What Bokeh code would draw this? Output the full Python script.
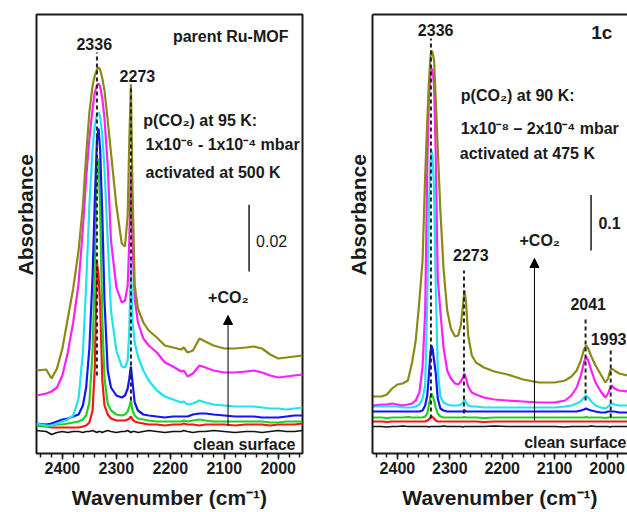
from bokeh.plotting import figure
from bokeh.models import (Range1d, LinearAxis, SingleIntervalTicker, FixedTicker,
                          Title, Arrow, NormalHead)
from bokeh.layouts import row
from bokeh.core.properties import value
from bokeh.embed import file_html
from bokeh.resources import INLINE

FONT = "Liberation Sans"
INK = "#1a1a1a"

# ---------------- panel A: parent Ru-MOF ----------------
wn_a = [2448, 2430, 2420, 2410, 2400, 2390, 2380, 2370, 2362, 2356,
        2350, 2344, 2340, 2336, 2333, 2330, 2326, 2322, 2316, 2310,
        2300, 2290, 2284, 2279, 2276, 2273, 2270, 2266, 2260, 2250,
        2240, 2225, 2210, 2195, 2180, 2175, 2168, 2158, 2146, 2135,
        2120, 2100, 2080, 2060, 2045, 2030, 2015, 2000, 1985, 1970,
        1955]
a_olive = [0.0255, 0.0258, 0.0231, 0.0261, 0.0321, 0.0411, 0.0501, 0.0615, 0.0750, 0.0900,
           0.1029, 0.1110, 0.1140, 0.1158, 0.1164, 0.1158, 0.1131, 0.1095, 0.1005, 0.0909,
           0.0750, 0.0636, 0.0627, 0.0720, 0.0945, 0.1110, 0.0795, 0.0510, 0.0441, 0.0399,
           0.0375, 0.0354, 0.0330, 0.0324, 0.0318, 0.0324, 0.0309, 0.0315, 0.0351, 0.0342,
           0.0330, 0.0321, 0.0321, 0.0324, 0.0327, 0.0321, 0.0303, 0.0291, 0.0294, 0.0297,
           0.0300]
a_magenta = [0.0180, 0.0186, 0.0192, 0.0204, 0.0240, 0.0309, 0.0399, 0.0516, 0.0681, 0.0831,
             0.0951, 0.1041, 0.1089, 0.1110, 0.1116, 0.1107, 0.1071, 0.1011, 0.0870, 0.0645,
             0.0504, 0.0459, 0.0465, 0.0510, 0.0645, 0.0855, 0.0630, 0.0471, 0.0399, 0.0351,
             0.0330, 0.0309, 0.0279, 0.0267, 0.0252, 0.0255, 0.0237, 0.0246, 0.0270, 0.0264,
             0.0255, 0.0249, 0.0249, 0.0252, 0.0255, 0.0249, 0.0240, 0.0234, 0.0237, 0.0240,
             0.0243]
a_cyan = [0.0096, 0.0090, 0.0090, 0.0096, 0.0102, 0.0108, 0.0120, 0.0171, 0.0309, 0.0510,
          0.0750, 0.0921, 0.0990, 0.1023, 0.1029, 0.1017, 0.0960, 0.0861, 0.0645, 0.0435,
          0.0315, 0.0267, 0.0264, 0.0285, 0.0375, 0.0585, 0.0399, 0.0339, 0.0297, 0.0255,
          0.0225, 0.0195, 0.0177, 0.0168, 0.0159, 0.0162, 0.0153, 0.0156, 0.0165, 0.0159,
          0.0153, 0.0150, 0.0147, 0.0147, 0.0147, 0.0144, 0.0141, 0.0141, 0.0138, 0.0141,
          0.0144]
a_blue = [0.0096, 0.0093, 0.0096, 0.0102, 0.0108, 0.0111, 0.0117, 0.0123, 0.0150, 0.0204,
          0.0321, 0.0540, 0.0765, 0.0945, 0.0981, 0.0915, 0.0720, 0.0465, 0.0255, 0.0204,
          0.0180, 0.0174, 0.0180, 0.0201, 0.0231, 0.0267, 0.0219, 0.0159, 0.0135, 0.0123,
          0.0120, 0.0117, 0.0114, 0.0117, 0.0117, 0.0117, 0.0117, 0.0123, 0.0126, 0.0126,
          0.0123, 0.0120, 0.0117, 0.0117, 0.0117, 0.0114, 0.0114, 0.0114, 0.0117, 0.0120,
          0.0120]
a_green = [0.0090, 0.0087, 0.0090, 0.0093, 0.0093, 0.0096, 0.0099, 0.0102, 0.0108, 0.0120,
           0.0159, 0.0315, 0.0555, 0.0870, 0.0891, 0.0735, 0.0405, 0.0231, 0.0156, 0.0135,
           0.0123, 0.0120, 0.0123, 0.0132, 0.0147, 0.0165, 0.0135, 0.0120, 0.0111, 0.0108,
           0.0105, 0.0102, 0.0102, 0.0102, 0.0102, 0.0105, 0.0102, 0.0105, 0.0108, 0.0105,
           0.0102, 0.0102, 0.0102, 0.0102, 0.0102, 0.0102, 0.0099, 0.0099, 0.0102, 0.0102,
           0.0102]
a_red = [0.0090, 0.0087, 0.0084, 0.0084, 0.0084, 0.0084, 0.0084, 0.0084, 0.0087, 0.0090,
         0.0099, 0.0135, 0.0261, 0.0579, 0.0540, 0.0453, 0.0225, 0.0150, 0.0123, 0.0111,
         0.0105, 0.0105, 0.0105, 0.0108, 0.0111, 0.0117, 0.0108, 0.0102, 0.0099, 0.0096,
         0.0093, 0.0093, 0.0090, 0.0093, 0.0093, 0.0096, 0.0093, 0.0093, 0.0090, 0.0093,
         0.0093, 0.0093, 0.0090, 0.0093, 0.0093, 0.0093, 0.0090, 0.0093, 0.0093, 0.0093,
         0.0096]
a_black = [0.0075, 0.0072, 0.0063, 0.0069, 0.0072, 0.0069, 0.0072, 0.0072, 0.0069, 0.0072,
           0.0072, 0.0075, 0.0072, 0.0069, 0.0072, 0.0072, 0.0069, 0.0072, 0.0075, 0.0072,
           0.0069, 0.0072, 0.0072, 0.0075, 0.0072, 0.0069, 0.0072, 0.0072, 0.0069, 0.0072,
           0.0075, 0.0072, 0.0069, 0.0072, 0.0072, 0.0075, 0.0072, 0.0069, 0.0072, 0.0072,
           0.0075, 0.0072, 0.0069, 0.0072, 0.0072, 0.0069, 0.0072, 0.0075, 0.0072, 0.0072,
           0.0075]
peaks_a = [2336, 2273]

# ---------------- panel B: 1c ----------------
wn_b = [2448, 2430, 2420, 2410, 2400, 2390, 2380, 2372, 2365, 2358,
        2352, 2347, 2343, 2340, 2337, 2335, 2333, 2330, 2327, 2323,
        2318, 2312, 2305, 2298, 2290, 2284, 2279, 2275, 2272, 2269,
        2265, 2258, 2250, 2235, 2215, 2190, 2160, 2130, 2100, 2080,
        2068, 2058, 2050, 2044, 2040, 2036, 2030, 2022, 2012, 2003,
        1998, 1994, 1991, 1986, 1977, 1960]
b_olive = [0.0972, 0.0972, 0.1008, 0.1116, 0.1188, 0.1206, 0.1260, 0.1584, 0.1980, 0.2700,
           0.3420, 0.4950, 0.5940, 0.6624, 0.7074, 0.7200, 0.7164, 0.7020, 0.6354, 0.5436,
           0.4320, 0.3276, 0.2520, 0.2196, 0.2052, 0.2070, 0.2250, 0.2610, 0.2880, 0.2664,
           0.2070, 0.1710, 0.1584, 0.1494, 0.1422, 0.1368, 0.1278, 0.1224, 0.1224, 0.1260,
           0.1332, 0.1440, 0.1620, 0.1818, 0.1890, 0.1836, 0.1692, 0.1530, 0.1368, 0.1224,
           0.1296, 0.1440, 0.1476, 0.1440, 0.1386, 0.1350]
b_magenta = [0.0810, 0.0828, 0.0828, 0.0846, 0.0828, 0.0810, 0.0828, 0.0846, 0.0900, 0.1044,
             0.1500, 0.2500, 0.5100, 0.6300, 0.6750, 0.6876, 0.6840, 0.6570, 0.5400, 0.3100,
             0.2500, 0.1850, 0.1440, 0.1296, 0.1206, 0.1188, 0.1242, 0.1314, 0.1386, 0.1296,
             0.1152, 0.1044, 0.1008, 0.0954, 0.0918, 0.0900, 0.0882, 0.0864, 0.0864, 0.0900,
             0.0990, 0.1134, 0.1350, 0.1584, 0.1692, 0.1620, 0.1440, 0.1224, 0.1062, 0.0954,
             0.1026, 0.1134, 0.1170, 0.1116, 0.1080, 0.1060]
b_cyan = [0.0792, 0.0792, 0.0792, 0.0792, 0.0792, 0.0774, 0.0774, 0.0774, 0.0792, 0.0828,
          0.0936, 0.1170, 0.2700, 0.4320, 0.5184, 0.5400, 0.5310, 0.4680, 0.3060, 0.1440,
          0.0972, 0.0864, 0.0828, 0.0810, 0.0810, 0.0810, 0.0828, 0.0864, 0.0918, 0.0864,
          0.0810, 0.0792, 0.0792, 0.0774, 0.0774, 0.0774, 0.0774, 0.0774, 0.0774, 0.0792,
          0.0810, 0.0846, 0.0882, 0.0954, 0.0990, 0.0954, 0.0882, 0.0810, 0.0774, 0.0756,
          0.0792, 0.0828, 0.0846, 0.0828, 0.0810, 0.0810]
b_blue = [0.0702, 0.0702, 0.0702, 0.0702, 0.0702, 0.0702, 0.0702, 0.0702, 0.0702, 0.0702,
          0.0720, 0.0810, 0.0990, 0.1350, 0.1764, 0.1890, 0.1836, 0.1620, 0.1404, 0.0936,
          0.0756, 0.0720, 0.0702, 0.0702, 0.0702, 0.0702, 0.0702, 0.0702, 0.0720, 0.0702,
          0.0702, 0.0702, 0.0702, 0.0702, 0.0702, 0.0702, 0.0702, 0.0702, 0.0702, 0.0702,
          0.0702, 0.0702, 0.0720, 0.0738, 0.0756, 0.0738, 0.0720, 0.0702, 0.0684, 0.0684,
          0.0702, 0.0702, 0.0702, 0.0702, 0.0684, 0.0684]
b_green = [0.0594, 0.0594, 0.0585, 0.0594, 0.0594, 0.0594, 0.0603, 0.0594, 0.0594, 0.0594,
           0.0594, 0.0612, 0.0666, 0.0810, 0.0972, 0.1026, 0.0990, 0.0900, 0.0774, 0.0666,
           0.0612, 0.0594, 0.0594, 0.0594, 0.0594, 0.0594, 0.0594, 0.0594, 0.0603, 0.0594,
           0.0594, 0.0594, 0.0594, 0.0585, 0.0594, 0.0594, 0.0594, 0.0594, 0.0594, 0.0594,
           0.0594, 0.0594, 0.0594, 0.0594, 0.0603, 0.0594, 0.0594, 0.0594, 0.0594, 0.0585,
           0.0594, 0.0594, 0.0594, 0.0594, 0.0594, 0.0594]
b_red = [0.0522, 0.0522, 0.0513, 0.0522, 0.0522, 0.0522, 0.0522, 0.0522, 0.0522, 0.0522,
         0.0522, 0.0522, 0.0540, 0.0558, 0.0594, 0.0612, 0.0603, 0.0576, 0.0540, 0.0522,
         0.0522, 0.0522, 0.0522, 0.0522, 0.0522, 0.0522, 0.0522, 0.0522, 0.0522, 0.0522,
         0.0522, 0.0522, 0.0522, 0.0513, 0.0522, 0.0522, 0.0522, 0.0522, 0.0522, 0.0522,
         0.0522, 0.0522, 0.0522, 0.0522, 0.0522, 0.0522, 0.0522, 0.0522, 0.0522, 0.0522,
         0.0522, 0.0522, 0.0522, 0.0522, 0.0522, 0.0522]
b_black = [0.0432, 0.0432, 0.0423, 0.0432, 0.0432, 0.0441, 0.0432, 0.0432, 0.0432, 0.0432,
           0.0432, 0.0432, 0.0432, 0.0423, 0.0432, 0.0432, 0.0432, 0.0432, 0.0432, 0.0432,
           0.0432, 0.0441, 0.0432, 0.0432, 0.0432, 0.0432, 0.0432, 0.0423, 0.0432, 0.0432,
           0.0432, 0.0432, 0.0432, 0.0432, 0.0441, 0.0432, 0.0432, 0.0432, 0.0432, 0.0423,
           0.0432, 0.0432, 0.0432, 0.0432, 0.0432, 0.0432, 0.0441, 0.0432, 0.0432, 0.0432,
           0.0432, 0.0423, 0.0432, 0.0432, 0.0432, 0.0432]
peaks_b = [2336, 2273, 2041, 1993]

COLORS = {"black": "#111111", "red": "#ff1414", "green": "#1ed21e", "blue": "#1414ff",
          "cyan": "#1fe3f0", "magenta": "#ff1eff", "olive": "#8a8a14"}


def make_panel(xr, yr, w, bl, br, full_box):
    p = figure(width=w, height=512, x_range=Range1d(*xr), y_range=Range1d(*yr),
               output_backend="svg", toolbar_location=None, title=None,
               min_border_left=bl, min_border_right=br, min_border_top=14, min_border_bottom=59,
               background_fill_color="white", border_fill_color="white")
    p.grid.visible = False
    xa = p.xaxis[0]
    xa.ticker = SingleIntervalTicker(interval=100, num_minor_ticks=5)
    xa.major_tick_out = 6
    xa.major_tick_in = 0
    xa.minor_tick_out = 4
    xa.minor_tick_in = 0
    xa.major_tick_line_width = 1.5
    xa.minor_tick_line_width = 1.5
    xa.major_tick_line_color = INK
    xa.minor_tick_line_color = INK
    xa.major_label_text_font = FONT
    xa.major_label_text_font_size = "16px"
    xa.major_label_text_font_style = "bold"
    xa.major_label_text_color = INK
    xa.major_label_standoff = 2
    xa.axis_label = "Wavenumber (cm\u207b\u00b9)"
    xa.axis_label_text_font = FONT
    xa.axis_label_text_font_size = "21px"
    xa.axis_label_text_font_style = "bold"
    xa.axis_label_text_color = INK
    xa.axis_label_standoff = 9
    ya = p.yaxis[0]
    ya.ticker = FixedTicker(ticks=[])
    ya.major_tick_line_color = None
    ya.minor_tick_line_color = None
    if full_box:
        p.outline_line_color = INK
        p.outline_line_width = 2
        xa.axis_line_color = None
        ya.axis_line_color = None
    else:
        p.outline_line_color = None
        xa.axis_line_color = INK
        xa.axis_line_width = 2
        ya.axis_line_color = INK
        ya.axis_line_width = 2
        top = LinearAxis(ticker=FixedTicker(ticks=[]), axis_line_color=INK, axis_line_width=2,
                         major_tick_line_color=None, minor_tick_line_color=None)
        p.add_layout(top, "above")
    return p


def txt(p, x, y, s, size="16px", bold=True, align="left", baseline="middle"):
    p.text(x=[x], y=[y], text=[s], text_font=value(FONT), text_font_size=size,
           text_font_style="bold" if bold else "normal", text_align=align,
           text_baseline=baseline, text_color=INK)


def curves(p, wn, series):
    for name, ys in series:
        p.line(wn, ys, line_color=COLORS[name], line_width=1.6 if name == "black" else 2.2)


def ylabel(p, offset, standoff):
    p.add_layout(Title(text="Absorbance", align="left", offset=offset, text_font=FONT,
                       text_font_size="21px", text_font_style="bold", text_color=INK,
                       standoff=standoff), "left")


# ---------- left panel ----------
pa = make_panel((2448, 1955), (0.0006, 0.1323), 330, 36, 28, True)
curves(pa, wn_a, [("black", a_black), ("red", a_red), ("green", a_green), ("blue", a_blue),
                  ("cyan", a_cyan), ("magenta", a_magenta), ("olive", a_olive)])
pa.segment(x0=peaks_a, y0=[0.0240, 0.0165], x1=peaks_a, y1=[0.1209, 0.1113],
           line_color="#222222", line_width=2, line_dash="4 3")
txt(pa, 2341, 0.1236, "2336", align="center")
txt(pa, 2261, 0.1140, "2273", align="center")
txt(pa, 1981, 0.1257, "parent Ru-MOF", align="right")
txt(pa, 2250, 0.1005, "p(CO\u2082) at 95 K:")
txt(pa, 2246, 0.0933, "1x10\u207b\u2076 - 1x10\u207b\u2074 mbar")
txt(pa, 2246, 0.0849, "activated at 500 K")
pa.segment(x0=[2054], y0=[0.0552], x1=[2054], y1=[0.0752], line_color=INK, line_width=1.5)
txt(pa, 2041, 0.0645, "0.02", bold=False)
txt(pa, 2130, 0.0474, "+CO\u2082")
pa.add_layout(Arrow(end=NormalHead(size=9, fill_color="black", line_color="black"),
                    x_start=2093, y_start=0.0090, x_end=2093, y_end=0.0420,
                    line_color="black", line_width=1))
txt(pa, 1968, 0.0033, "clean surface", align="right")
ylabel(pa, 178, 0)

# ---------- right panel ----------
pb = make_panel((2447.5, 1961), (-0.0054, 0.7848), 297, 42, 0, False)
curves(pb, wn_b, [("black", b_black), ("red", b_red), ("green", b_green), ("blue", b_blue),
                  ("cyan", b_cyan), ("magenta", b_magenta), ("olive", b_olive)])
pb.segment(x0=peaks_b, y0=[0.0576, 0.0666, 0.0900, 0.0594],
           x1=peaks_b, y1=[0.7416, 0.3240, 0.2376, 0.1800],
           line_color="#222222", line_width=2, line_dash="4 3")
txt(pb, 2327, 0.7578, "2336", align="center")
txt(pb, 1990, 0.7524, "1c", size="19px", align="right")
txt(pb, 2279, 0.6390, "p(CO\u2082) at 90 K:")
txt(pb, 2279, 0.5796, "1x10\u207b\u2078 \u2013 2x10\u207b\u2074 mbar")
txt(pb, 2281, 0.5346, "activated at 475 K")
pb.segment(x0=[2030.5], y0=[0.36], x1=[2030.5], y1=[0.46], line_color=INK, line_width=1.5)
txt(pb, 2016.5, 0.4104, "0.1")
txt(pb, 2167, 0.3780, "+CO\u2082")
pb.add_layout(Arrow(end=NormalHead(size=9, fill_color="black", line_color="black"),
                    x_start=2138.5, y_start=0.0540, x_end=2138.5, y_end=0.3456,
                    line_color="black", line_width=1))
txt(pb, 2260, 0.3528, "2273", align="center")
txt(pb, 2036, 0.2646, "2041", align="center")
txt(pb, 1963, 0.2016, "1993", align="right")
txt(pb, 1963, 0.0144, "clean surface", align="right")
ylabel(pb, 178, 6)

layout = row(pa, pb)
open("out.html", "w").write(file_html(layout, INLINE))
